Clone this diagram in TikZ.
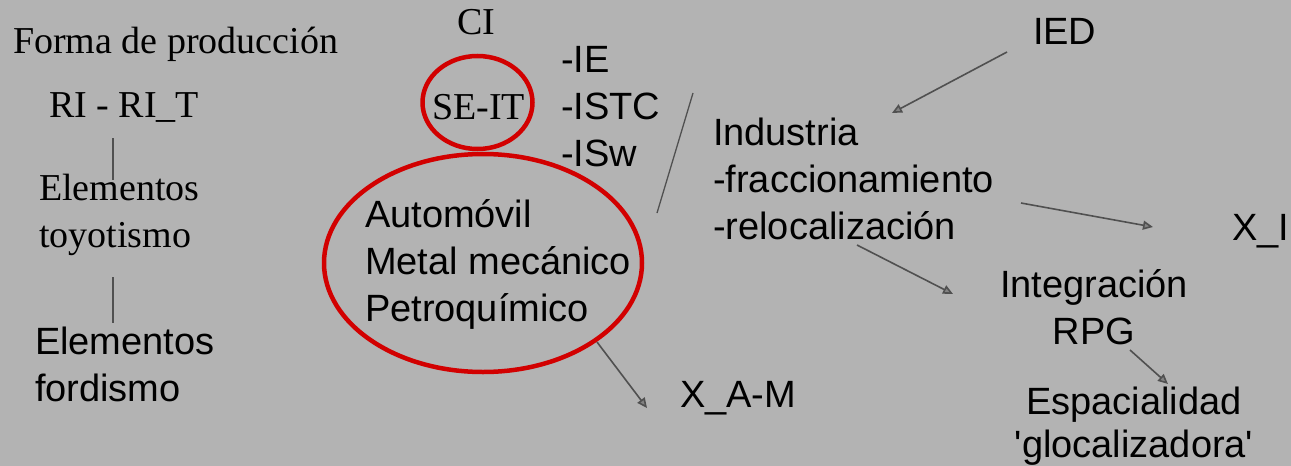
\documentclass[tikz,border=0pt]{standalone}
\usepackage{fontspec}
\setmainfont{Liberation Sans}
\newfontfamily\serif{Liberation Serif}
\usetikzlibrary{arrows.meta,shapes.geometric}
\definecolor{bg}{RGB}{179,179,179}
\definecolor{redring}{RGB}{210,0,0}
\definecolor{conn}{RGB}{80,80,80}
\definecolor{headfill}{RGB}{130,130,130}
\newcommand\tbl[1]{\begin{tabular}[t]{@{}l@{}}#1\end{tabular}}
\newcommand\tbc[1]{\begin{tabular}[t]{@{}c@{}}#1\end{tabular}}
\tikzset{
  txt/.style={inner sep=0pt, outer sep=0pt, font=\fontsize{38}{47}\selectfont, anchor=base west},
  stxt/.style={txt, font=\fontsize{38}{47}\selectfont\serif},
  ringline/.style={draw=redring, line width=4.5pt},
  plainline/.style={draw=conn, line width=1.3pt},
  arr/.style={draw=conn, line width=1.6pt, -{Triangle[length=10pt, width=9pt, fill=headfill]}},
}
\begin{document}
\begin{tikzpicture}[x=1pt,y=-1pt]
\fill[bg] (0,0) rectangle (1291,466);
\useasboundingbox (0,0) rectangle (1291,466);

% left column
\node[stxt] (forma) at (13,53) {Forma de producción};
\node[stxt] (rit) at (49,117) {RI - RI\_T};
\node[stxt] (toyo) at (39,200) {\tbl{Elementos\\toyotismo}};
\node[txt] (ford) at (35,354) {\tbl{Elementos\\fordismo}};
\coordinate (l1a) at (113,138);
\coordinate (l1b) at (113,180);
\coordinate (l2a) at (113,277);
\coordinate (l2b) at (113,323);
\draw[plainline] (l1a) -- (l1b);
\draw[plainline] (l2a) -- (l2b);

% centre
\node[stxt] (ci) at (457,34) {CI};
\draw[ringline] (477.5,102.5) ellipse [x radius=55, y radius=46.5];
\node[stxt] (seit) at (432,119) {SE-IT};
\node[txt] (ie) at (561,72) {\tbl{-IE\\-ISTC\\-ISw}};
\draw[ringline] (483,263) ellipse [x radius=159, y radius=109];
\node[txt] (auto) at (365,227) {\tbl{Automóvil\\Metal mecánico\\Petroquímico}};
\node[txt] (xam) at (680,407) {X\_A-M};
\coordinate (am1) at (597,342);
\coordinate (am2) at (647,408);
\draw[arr] (am1) -- (am2);

\coordinate (s1) at (693,93);
\coordinate (s2) at (657,213);
\draw[plainline] (s1) -- (s2);

% right
\node[txt] (ind) at (713,145) {\tbl{Industria\\-fraccionamiento\\-relocalización}};
\node[txt] (ied) at (1033,44) {IED};
\coordinate (ied1) at (1007,52);
\coordinate (ied2) at (892,113);
\draw[arr] (ied1) -- (ied2);

\node[txt] (xi) at (1232,240) {X\_I};
\coordinate (xi1) at (1021,203);
\coordinate (xi2) at (1153,227);
\draw[arr] (xi1) -- (xi2);

\node[txt, anchor=base] (integ) at (1094,297) {\tbc{Integración\\RPG}};
\coordinate (in1) at (857,245);
\coordinate (in2) at (953,294);
\draw[arr] (in1) -- (in2);

\node[txt, anchor=base] (esp) at (1134,414) {\tbc{Espacialidad\\[-4pt]\textquotesingle glocalizadora\textquotesingle}};
\coordinate (es1) at (1130,350);
\coordinate (es2) at (1168,384);
\draw[arr] (es1) -- (es2);
\end{tikzpicture}
\end{document}
